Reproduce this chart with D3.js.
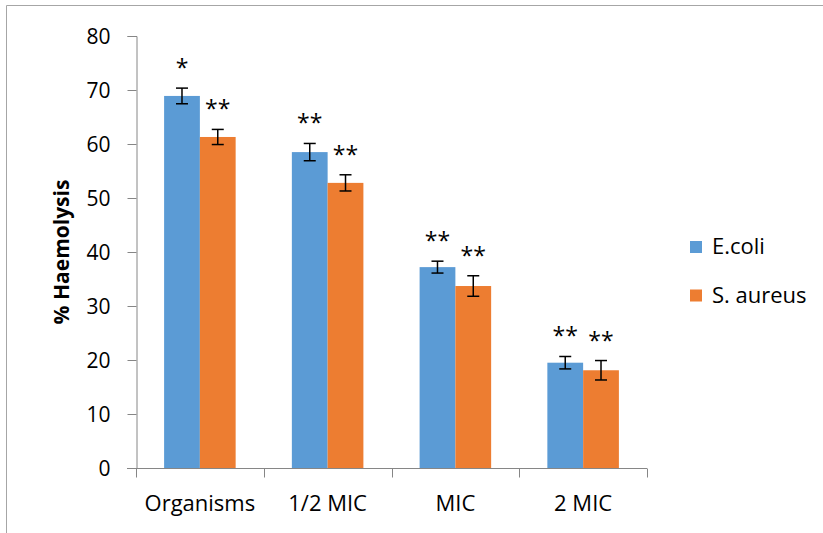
<!DOCTYPE html>
<html>
<head>
<meta charset="utf-8">
<script src="https://cdn.jsdelivr.net/npm/d3@7"></script>
<style>
  html, body { margin: 0; padding: 0; background: #fff; }
  svg { display: block; }
  text { font-family: "Open Sans", "Liberation Sans", sans-serif; fill: #000; }
</style>
</head>
<body>
<svg id="chart" width="823" height="533"></svg>
<script>
// Haemolysis (%) by treatment level for two organisms
const categories = ["Organisms", "1/2 MIC", "MIC", "2 MIC"];
const seriesNames = ["E.coli", "S. aureus"];
const ecoliValues = [68.9, 58.5, 37.2, 19.5];
const aureusValues = [61.3, 52.8, 33.7, 18.1];
const ecoliErrors = [1.45, 1.6, 1.1, 1.15];
const aureusErrors = [1.4, 1.5, 1.9, 1.8];
const ecoliMarks = ["*", "**", "**", "**"];
const aureusMarks = ["**", "**", "**", "**"];
const yTicks = [0, 10, 20, 30, 40, 50, 60, 70, 80];
const colors = ["#5B9BD5", "#ED7D31"];

const svg = d3.select("#chart");

// outer frame (top and left edges visible)
svg.append("path")
  .attr("d", "M6.5,533 V5.5 H823")
  .attr("fill", "none")
  .attr("stroke", "#a6a6a6")
  .attr("stroke-width", 1);

const margin = { left: 136, right: 647, top: 36, bottom: 468 };

const x = d3.scaleBand()
  .domain(categories)
  .range([margin.left, margin.right])
  .paddingInner(0.44)
  .paddingOuter(0.22);

const xSub = d3.scaleBand()
  .domain(seriesNames)
  .range([0, x.bandwidth()]);

const y = d3.scaleLinear()
  .domain([0, 80])
  .range([margin.bottom, margin.top]);

const rows = categories.map((c, i) => ({
  cat: c,
  items: [
    { s: seriesNames[0], v: ecoliValues[i], e: ecoliErrors[i], m: ecoliMarks[i], col: colors[0] },
    { s: seriesNames[1], v: aureusValues[i], e: aureusErrors[i], m: aureusMarks[i], col: colors[1] }
  ]
}));

// y axis
const yAxis = d3.axisLeft(y).tickValues(yTicks).tickSize(9).tickPadding(17);
const gy = svg.append("g")
  .attr("transform", `translate(${margin.left + 0.5},0)`)
  .call(yAxis);
gy.select(".domain").attr("stroke", "#868686");
gy.selectAll(".tick line").attr("stroke", "#868686");
gy.selectAll(".tick text")
  .style("font-size", "21px")
  .attr("dy", "0.36em");

// x axis with ticks between categories
const gx = svg.append("g")
  .attr("transform", `translate(0,${margin.bottom + 0.5})`);
gx.append("line")
  .attr("x1", margin.left - 9).attr("x2", margin.right)
  .attr("stroke", "#868686");
const boundaries = d3.range(categories.length + 1).map(i => margin.left + i * (margin.right - margin.left) / categories.length);
gx.selectAll("line.tk")
  .data(boundaries)
  .join("line")
  .attr("class", "tk")
  .attr("x1", d => Math.round(d) + 0.5).attr("x2", d => Math.round(d) + 0.5)
  .attr("y1", 0).attr("y2", 9)
  .attr("stroke", "#868686");
gx.selectAll("text")
  .data(categories)
  .join("text")
  .attr("x", d => x(d) + x.bandwidth() / 2)
  .attr("y", 42.5)
  .attr("text-anchor", "middle")
  .style("font-size", "22px")
  .text(d => d);

// bars
const groups = svg.append("g").selectAll("g")
  .data(rows)
  .join("g")
  .attr("transform", d => `translate(${x(d.cat)},0)`);

groups.selectAll("rect")
  .data(d => d.items)
  .join("rect")
  .attr("x", d => xSub(d.s))
  .attr("width", xSub.bandwidth())
  .attr("y", d => y(d.v))
  .attr("height", d => y(0) - y(d.v))
  .attr("fill", d => d.col);

// error bars
const capHalf = 6;
const eb = groups.selectAll("g.err")
  .data(d => d.items)
  .join("g")
  .attr("class", "err")
  .attr("stroke", "#000")
  .attr("stroke-width", 1.5);
eb.append("line")
  .attr("x1", d => xSub(d.s) + xSub.bandwidth() / 2)
  .attr("x2", d => xSub(d.s) + xSub.bandwidth() / 2)
  .attr("y1", d => y(d.v + d.e))
  .attr("y2", d => y(d.v - d.e));
eb.append("line")
  .attr("x1", d => xSub(d.s) + xSub.bandwidth() / 2 - capHalf)
  .attr("x2", d => xSub(d.s) + xSub.bandwidth() / 2 + capHalf)
  .attr("y1", d => y(d.v + d.e))
  .attr("y2", d => y(d.v + d.e));
eb.append("line")
  .attr("x1", d => xSub(d.s) + xSub.bandwidth() / 2 - capHalf)
  .attr("x2", d => xSub(d.s) + xSub.bandwidth() / 2 + capHalf)
  .attr("y1", d => y(d.v - d.e))
  .attr("y2", d => y(d.v - d.e));

// significance marks
groups.selectAll("text.sig")
  .data(d => d.items)
  .join("text")
  .attr("class", "sig")
  .attr("x", d => xSub(d.s) + xSub.bandwidth() / 2)
  .attr("y", d => y(d.v + d.e) - 12)
  .attr("text-anchor", "middle")
  .style("font-size", "23px")
  .text(d => d.m);

// y axis title
svg.append("text")
  .attr("transform", `translate(69,${(margin.top + margin.bottom) / 2}) rotate(-90)`)
  .attr("text-anchor", "middle")
  .style("font-size", "21px")
  .style("font-weight", "bold")
  .text("% Haemolysis");

// legend
const legend = svg.append("g").selectAll("g")
  .data(seriesNames)
  .join("g")
  .attr("transform", (d, i) => `translate(690,${241 + i * 48.5})`);
legend.append("rect")
  .attr("width", 12).attr("height", 12)
  .attr("fill", (d, i) => colors[i]);
legend.append("text")
  .attr("x", 22).attr("y", 13)
  .style("font-size", "22px")
  .text(d => d);
</script>
</body>
</html>
